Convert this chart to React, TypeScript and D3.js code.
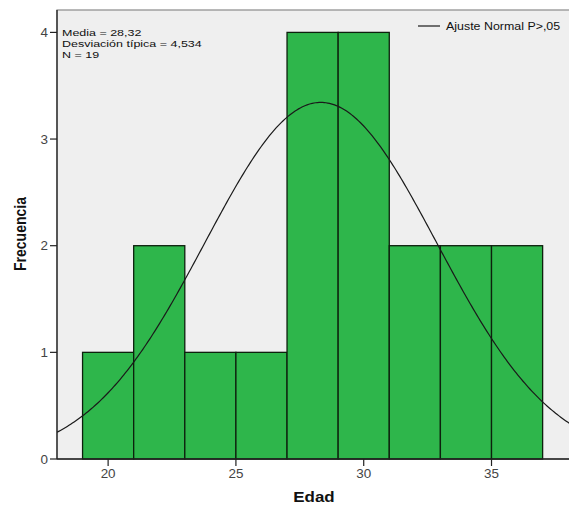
import React from "react";
import * as d3 from "d3";

const binStarts = [19, 21, 23, 25, 27, 29, 31, 33, 35];
const binWidth = 2;
const counts = [1, 2, 1, 1, 4, 4, 2, 2, 2];
const xTicks = [20, 25, 30, 35];
const yTicks = [0, 1, 2, 3, 4];
const mean = 28.32;
const sd = 4.534;
const n = 19;
const statsLines = ["Media = 28,32", "Desviación típica = 4,534", "N = 19"];
const legendLabel = "Ajuste Normal P>,05";
const xTitle = "Edad";
const yTitle = "Frecuencia";

const W = 569;
const H = 507;
const left = 57;
const right = 571;
const top = 10;
const bottom = 459;

export default function App() {
  const x = d3.scaleLinear().domain([18, 38.11]).range([left, right]);
  const y = d3.scaleLinear().domain([0, 4.21]).range([bottom, top]);
  const [x0, x1] = x.domain();
  const samples = d3.range(0, 301).map((i) => x0 + ((x1 - x0) * i) / 300);
  const pdf = (v: number) =>
    (n * binWidth * Math.exp(-0.5 * ((v - mean) / sd) ** 2)) / (sd * Math.sqrt(2 * Math.PI));
  const line = d3
    .line<number>()
    .x((v) => x(v))
    .y((v) => y(pdf(v)))
    .curve(d3.curveLinear);
  const font = "'Liberation Sans', Arial, sans-serif";
  const sx = 1.12;

  return (
    <svg
      width={W}
      height={H}
      style={{ position: "absolute", left: 0, top: 0, background: "#fff" }}
      fontFamily={font}
    >
      <defs>
        <clipPath id="plot">
          <rect x={left} y={top} width={right - left} height={bottom - top} />
        </clipPath>
      </defs>
      <rect x={left} y={top} width={right - left} height={bottom - top} fill="#efefef" stroke="#8a8a8a" strokeWidth={1.2} />
      {binStarts.map((b, i) => (
        <rect
          key={b}
          x={x(b)}
          y={y(counts[i])}
          width={x(b + binWidth) - x(b)}
          height={y(0) - y(counts[i])}
          fill="#2eb64b"
          stroke="#0d200d"
          strokeWidth={1.3}
        />
      ))}
      <path d={line(samples) || ""} fill="none" stroke="#1a1a1a" strokeWidth={1.2} clipPath="url(#plot)" />
      <line x1={left} x2={left} y1={top} y2={bottom} stroke="#222" strokeWidth={1.3} />
      <line x1={left} x2={right} y1={bottom} y2={bottom} stroke="#222" strokeWidth={1.3} />
      {yTicks.map((t) => (
        <g key={t}>
          <line x1={left - 7} x2={left} y1={y(t)} y2={y(t)} stroke="#222" strokeWidth={1.2} />
          <g transform={`translate(${left - 9},${y(t) + 4.5}) scale(${sx},1)`}>
            <text textAnchor="end" fontSize={12} fill="#444">
              {t}
            </text>
          </g>
        </g>
      ))}
      {xTicks.map((t) => (
        <g key={t}>
          <line x1={x(t)} x2={x(t)} y1={bottom} y2={bottom + 7} stroke="#222" strokeWidth={1.2} />
          <g transform={`translate(${x(t)},${bottom + 19}) scale(${sx},1)`}>
            <text textAnchor="middle" fontSize={12} fill="#444">
              {t}
            </text>
          </g>
        </g>
      ))}
      {statsLines.map((s, i) => (
        <g key={s} transform={`translate(62,${36 + i * 11}) scale(1.3,1)`}>
          <text fontSize={9.6} fill="#111">
            {s}
          </text>
        </g>
      ))}
      <line x1={418} x2={440} y1={26} y2={26} stroke="#1a1a1a" strokeWidth={1.2} />
      <g transform={`translate(446,30) scale(1.13,1)`}>
        <text fontSize={11} fill="#111">
          {legendLabel}
        </text>
      </g>
      <g transform={`translate(314,502) scale(1.13,1)`}>
        <text textAnchor="middle" fontSize={15} fontWeight="bold" fill="#111">
          {xTitle}
        </text>
      </g>
      <g transform={`translate(26,234) rotate(-90) scale(1.0,1.12)`}>
        <text textAnchor="middle" fontSize={14} fontWeight="bold" fill="#111">
          {yTitle}
        </text>
      </g>
    </svg>
  );
}
